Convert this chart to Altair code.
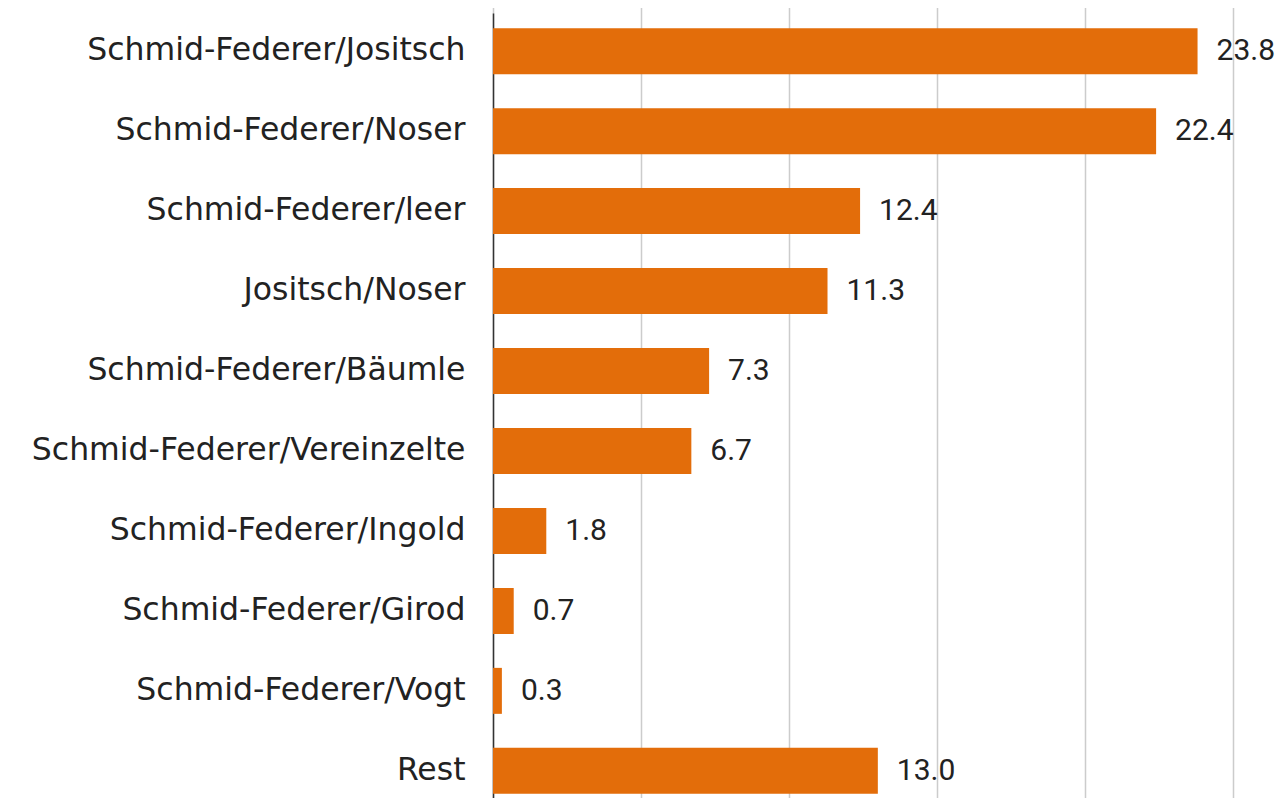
import altair as alt
import pandas as pd

categories = [
    "Schmid-Federer/Jositsch",
    "Schmid-Federer/Noser",
    "Schmid-Federer/leer",
    "Jositsch/Noser",
    "Schmid-Federer/Bäumle",
    "Schmid-Federer/Vereinzelte",
    "Schmid-Federer/Ingold",
    "Schmid-Federer/Girod",
    "Schmid-Federer/Vogt",
    "Rest",
]
values = [23.8, 22.4, 12.4, 11.3, 7.3, 6.7, 1.8, 0.7, 0.3, 13.0]
grid_values = [0, 5, 10, 15, 20, 25]

df = pd.DataFrame({"cat": categories, "val": values})

LABEL_FONT = "DejaVu Sans"
VALUE_FONT = "Roboto"
TEXT_COLOR = "#222222"
BAR_COLOR = "#e36d0a"

y = alt.Y(
    "cat:N",
    sort=categories,
    scale=alt.Scale(range=[0, 796], paddingInner=0.425, paddingOuter=0.19),
    axis=alt.Axis(
        title=None,
        ticks=False,
        grid=False,
        labelFontSize=31.5,
        labelFont=LABEL_FONT,
        labelColor=TEXT_COLOR,
        labelPadding=28,
        labelLimit=0,
        domainColor="#333333",
        domainWidth=1.5,
    ),
)
x = alt.X(
    "val:Q",
    scale=alt.Scale(domain=[0, 26.45], nice=False),
    axis=alt.Axis(
        title=None,
        labels=False,
        ticks=False,
        domain=False,
        values=grid_values,
        grid=True,
        gridColor="#cccccc",
        gridWidth=1.5,
    ),
)

bars = alt.Chart(df).mark_bar(color=BAR_COLOR).encode(x=x, y=y)
text = alt.Chart(df).mark_text(
    align="left", baseline="middle", dx=19, fontSize=30, font=VALUE_FONT, color=TEXT_COLOR
).encode(
    x=alt.X("val:Q"),
    y=alt.Y("cat:N", sort=categories),
    text=alt.Text("val:Q", format=".1f"),
)

chart = (
    alt.layer(bars, text)
    .properties(
        width=783,
        height=785,
        padding={"left": 485, "top": 5, "right": 0, "bottom": 0},
        autosize=alt.AutoSizeParams(type="none"),
    )
    .configure_view(stroke=None)
)

chart.save("out.html", embed_options={"renderer": "svg", "actions": False})
